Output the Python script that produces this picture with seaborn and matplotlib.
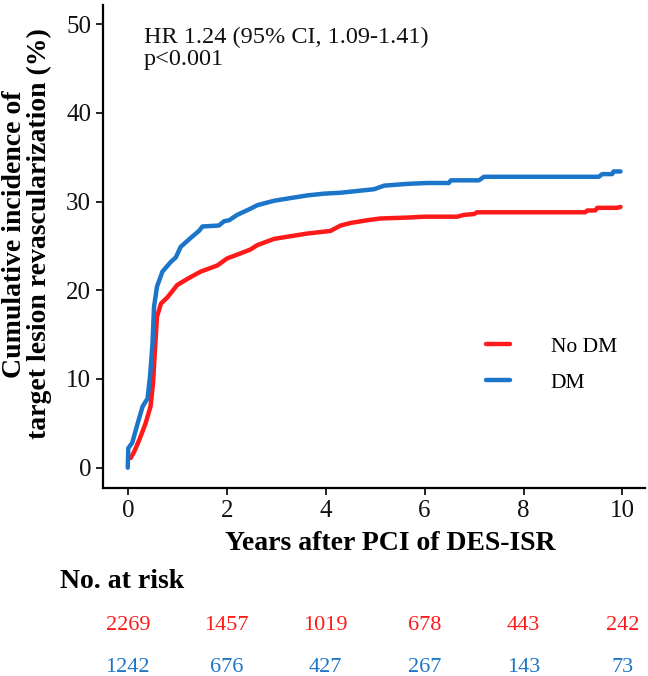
import matplotlib
matplotlib.use("Agg")
import matplotlib.pyplot as plt
import seaborn as sns
import pandas as pd

# Data
dm_years = [0.0, 0.01, 0.09, 0.20, 0.30, 0.40, 0.45, 0.50, 0.53, 0.59, 0.70, 0.87, 0.97, 1.07,
            1.27, 1.44, 1.51, 1.84, 1.95, 2.05, 2.21, 2.48, 2.62, 2.96, 3.29, 3.63, 3.97, 4.30,
            4.64, 4.98, 5.18, 5.65, 6.05, 6.49, 6.53, 7.10, 7.20, 9.52, 9.59, 9.79, 9.82, 9.96]
dm_inc = [0.0, 2.2, 2.8, 5.0, 6.9, 7.8, 10.3, 14.0, 18.1, 20.4, 22.1, 23.2, 23.7, 24.9,
          25.9, 26.7, 27.2, 27.3, 27.8, 27.9, 28.5, 29.2, 29.6, 30.1, 30.4, 30.7, 30.9, 31.0,
          31.2, 31.4, 31.8, 32.0, 32.1, 32.1, 32.4, 32.4, 32.8, 32.8, 33.1, 33.1, 33.4, 33.4]
nodm_years = [0.06, 0.13, 0.23, 0.36, 0.46, 0.51, 0.55, 0.59, 0.67, 0.80, 1.00, 1.21, 1.47,
              1.81, 2.01, 2.25, 2.48, 2.62, 2.96, 3.29, 3.63, 4.10, 4.30, 4.51, 4.84, 5.11,
              5.65, 5.99, 6.66, 6.79, 7.00, 7.06, 9.25, 9.29, 9.45, 9.49, 9.89, 9.96]
nodm_inc = [1.1, 1.8, 3.1, 5.0, 6.9, 9.5, 13.3, 17.0, 18.5, 19.2, 20.6, 21.3, 22.1,
            22.8, 23.6, 24.1, 24.6, 25.1, 25.8, 26.1, 26.4, 26.7, 27.3, 27.6, 27.9, 28.1,
            28.2, 28.3, 28.3, 28.5, 28.6, 28.8, 28.8, 29.0, 29.0, 29.3, 29.3, 29.4]
groups = ["No DM", "DM"]
risk_times = [0, 2, 4, 6, 8, 10]
risk_nodm = [2269, 1457, 1019, 678, 443, 242]
risk_dm = [1242, 676, 427, 267, 143, 73]
colors = {"No DM": "#FF1A1A", "DM": "#1B75C9"}

df = pd.concat([
    pd.DataFrame({"year": nodm_years, "inc": nodm_inc, "group": "No DM"}),
    pd.DataFrame({"year": dm_years, "inc": dm_inc, "group": "DM"}),
], ignore_index=True)

sns.set_theme(style="ticks")
plt.rcParams["font.family"] = ["Liberation Serif", "DejaVu Serif"]
plt.rcParams["text.color"] = "black"

fig = plt.figure(figsize=(6.48, 6.76), dpi=100)
ax = fig.add_axes([0.159, 0.278, 0.836, 0.715])

sns.lineplot(data=df, x="year", y="inc", hue="group", hue_order=groups, palette=colors,
             estimator=None, sort=False, linewidth=3.2, ax=ax)

ax.set_xlim(-0.5, 10.45)
ax.set_ylim(-2.3, 52.2)
ax.set_xticks([0, 2, 4, 6, 8, 10])
ax.set_yticks([0, 10, 20, 30, 40, 50])
ax.tick_params(axis="both", labelsize=18, colors="black", width=1.2, length=5, labelcolor="#111111")
for s in ["top", "right"]:
    ax.spines[s].set_visible(False)
for s in ["left", "bottom"]:
    ax.spines[s].set_linewidth(1.6)
    ax.spines[s].set_color("black")
ax.set_xlabel("")
ax.set_ylabel("Cumulative incidence of\ntarget lesion revascularization (%)",
              fontsize=20, fontweight="bold", linespacing=0.95, color="black")
ax.yaxis.set_label_coords(-0.095, 0.526)

ax.text(0.075, 0.955, "HR 1.24 (95% CI, 1.09-1.41)\np<0.001", transform=ax.transAxes,
        fontsize=17.5, va="top", ha="left", linespacing=1.1, color="#111111")

leg = ax.legend(frameon=False, loc="center left", bbox_to_anchor=(0.707, 0.255),
                borderpad=0, borderaxespad=0, handlelength=1.1, handletextpad=1.9,
                labelspacing=0.75, prop={"size": 15.5})
for line in leg.get_lines():
    line.set_linewidth(3.2)
for txt in leg.get_texts():
    txt.set_color("black")

fig.text(390 / 648, 1 - 543 / 676, "Years after PCI of DES-ISR", fontsize=20,
         fontweight="bold", ha="center", va="center")
fig.text(60 / 648, 1 - 582 / 676, "No. at risk", fontsize=20, fontweight="bold",
         ha="left", va="center")

for t, a, b in zip(risk_times, risk_nodm, risk_dm):
    xf = fig.transFigure.inverted().transform(ax.transData.transform((t, 0)))[0]
    fig.text(xf, 1 - 626 / 676, str(a), color=colors["No DM"], fontsize=16, ha="center", va="center")
    fig.text(xf, 1 - 668 / 676, str(b), color=colors["DM"], fontsize=16, ha="center", va="center")

fig.savefig("out.png", dpi=100)
